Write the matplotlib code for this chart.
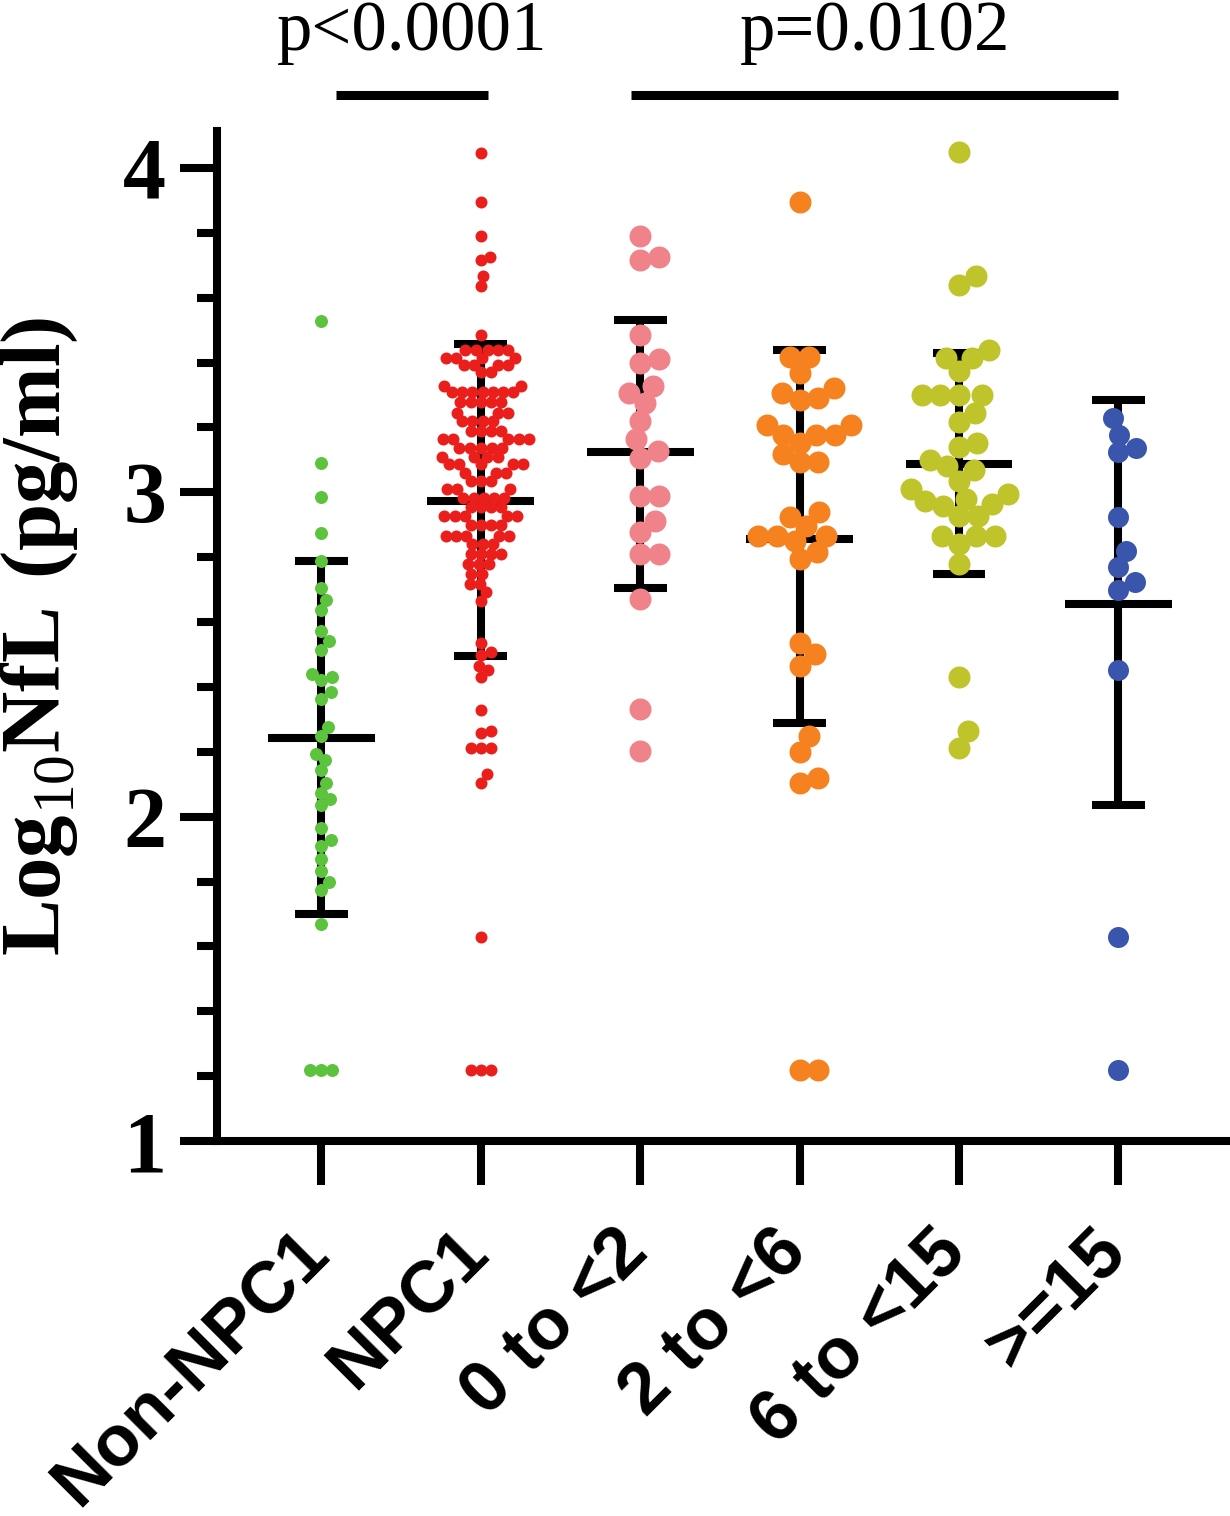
import numpy as np
import matplotlib
matplotlib.use("Agg")
import matplotlib.pyplot as plt
import matplotlib.transforms as mtransforms

# serif fonts for the mathtext y label (must be set before the axes exist)
plt.rcParams["mathtext.fontset"] = "custom"
plt.rcParams["mathtext.rm"] = "Liberation Serif"
plt.rcParams["mathtext.bf"] = "Liberation Serif:bold"

# groups and log10 NfL values
groups = ["Non-NPC1", "NPC1", "0 to <2", "2 to <6", "6 to <15", ">=15"]

non_npc1 = [3.527, 3.089, 2.987, 2.876, 2.788, 2.706, 2.668, 2.637, 2.573, 2.541,
            2.515, 2.44, 2.431, 2.42, 2.383, 2.364, 2.277, 2.25, 2.194, 2.175,
            2.143, 2.105, 2.074, 2.055, 2.035, 1.966, 1.927, 1.909, 1.87, 1.833,
            1.80, 1.775, 1.668, 1.22, 1.22, 1.22]

npc1 = [4.045, 3.896, 3.789, 3.717, 3.727, 3.666, 3.635, 3.486,
        3.44, 3.44, 3.44, 3.44, 3.44, 3.415, 3.415, 3.415, 3.415,
        3.394, 3.394, 3.394, 3.394, 3.37, 3.37, 3.327, 3.327,
        3.308, 3.308, 3.308, 3.308, 3.308, 3.308, 3.308,
        3.277, 3.277, 3.277, 3.277, 3.277, 3.246, 3.246, 3.246,
        3.219, 3.219, 3.219, 3.219, 3.188, 3.188, 3.188, 3.188,
        3.163, 3.163, 3.163, 3.163, 3.163, 3.138, 3.138, 3.138, 3.138, 3.138,
        3.11, 3.11, 3.11, 3.11, 3.086, 3.086, 3.086, 3.086, 3.086,
        3.061, 3.061, 3.061, 3.034, 3.034, 3.034, 3.009, 3.009, 3.009,
        2.984, 2.984, 2.984, 2.984, 2.984, 2.954, 2.954, 2.954, 2.954,
        2.926, 2.926, 2.926, 2.926, 2.926, 2.90, 2.90, 2.90, 2.90,
        2.865, 2.865, 2.865, 2.865, 2.865, 2.84, 2.84, 2.84,
        2.809, 2.809, 2.809, 2.809, 2.778, 2.778, 2.778, 2.748, 2.748,
        2.717, 2.717, 2.692, 2.665,
        2.535, 2.507, 2.498, 2.466, 2.453, 2.432, 2.33, 2.263, 2.257,
        2.212, 2.212, 2.212, 2.13, 2.105, 1.63, 1.22, 1.22, 1.22]

age_0_2 = [3.789, 3.717, 3.727, 3.486, 3.40, 3.41, 3.327, 3.307, 3.276, 3.22,
           3.163, 3.127, 3.107, 2.989, 2.989, 2.912, 2.877, 2.809, 2.809, 2.671,
           2.332, 2.203]

age_2_6 = [3.896, 3.418, 3.418, 3.368, 3.323, 3.307, 3.286, 3.292, 3.209, 3.209,
           3.178, 3.178, 3.178, 3.153, 3.117, 3.092, 3.092, 2.938, 2.923, 2.896,
           2.865, 2.865, 2.865, 2.85, 2.815, 2.794, 2.535, 2.50, 2.466, 2.25,
           2.20, 2.12, 2.105, 1.22, 1.22]

age_6_15 = [4.048, 3.666, 3.64, 3.44, 3.415, 3.415, 3.373, 3.30, 3.30, 3.30,
            3.30, 3.246, 3.218, 3.153, 3.14, 3.10, 3.08, 3.07, 3.035,
            3.009, 2.994, 2.98, 2.973, 2.963, 2.958, 2.927, 2.927,
            2.865, 2.865, 2.865, 2.84, 2.778, 2.431, 2.263, 2.212]

age_15 = [3.23, 3.178, 3.138, 3.123, 2.923, 2.82, 2.77, 2.723, 2.70, 2.453,
          1.63, 1.22]

means = [2.244, 2.973, 3.123, 2.856, 3.086, 2.655]
sd_hi = [2.788, 3.458, 3.532, 3.44, 3.43, 3.286]
sd_lo = [1.70, 2.494, 2.705, 2.29, 2.748, 2.035]

p_labels = ["p<0.0001", "p=0.0102"]

colors = ["#5cc43c", "#ea1f1c", "#f0838a", "#f5821f", "#bec42a", "#3a56ac"]
dot_px = [13, 12, 22, 22, 22, 21]

data = [non_npc1, npc1, age_0_2, age_2_6, age_6_15, age_15]


def swarm(ys, d):
    # simple beeswarm: offsets in pixels for values given in pixels
    offs = np.zeros(len(ys))
    placed = []
    for i in np.argsort(ys):
        y = ys[i]
        near = [(px, py) for px, py in placed if abs(py - y) < d]
        cands = [0.0]
        for px, py in near:
            dx = np.sqrt(d * d - (py - y) ** 2)
            cands += [px + dx, px - dx]
        cands.sort(key=lambda c: (abs(c), -c))
        for c in cands:
            if all((c - px) ** 2 + (y - py) ** 2 >= d * d - 1e-6 for px, py in near):
                break
        placed.append((c, y))
        offs[i] = c
    return offs


fig = plt.figure(figsize=(12.3, 15.16), dpi=100)
ax = fig.add_axes([217 / 1230, 375 / 1516, 1013 / 1230, 1010 / 1516])
ax.set_xlim(-0.655, 5.70)
ax.set_ylim(1, 4.114)

px_x = ax.bbox.width / (5.70 + 0.655)
px_y = ax.bbox.height / (4.114 - 1)

for i, vals in enumerate(data):
    vals = np.array(vals)
    offs = swarm(vals * px_y, dot_px[i] * 0.85)
    ax.scatter(i + offs / px_x, vals, s=(dot_px[i] * 0.72) ** 2, color=colors[i],
               linewidths=0, zorder=3, clip_on=False)
    # mean and SD
    ax.plot([i, i], [sd_lo[i], sd_hi[i]], color="black", lw=5.8, zorder=2, solid_capstyle="butt")
    for yv in (sd_lo[i], sd_hi[i]):
        ax.plot([i - 0.166, i + 0.166], [yv, yv], color="black", lw=5.8, zorder=2, solid_capstyle="butt")
    ax.plot([i - 0.335, i + 0.335], [means[i], means[i]], color="black", lw=5.8, zorder=2,
            solid_capstyle="butt")

# significance bars
ax.plot([0.094, 1.048], [4.225, 4.225], color="black", lw=6.5, clip_on=False, solid_capstyle="butt")
ax.plot([1.945, 5.0], [4.225, 4.225], color="black", lw=6.5, clip_on=False, solid_capstyle="butt")
ax.text(0.571, 4.364, p_labels[0], ha="center", va="baseline", fontsize=51,
        family="Liberation Serif", clip_on=False)
ax.text(3.476, 4.364, p_labels[1], ha="center", va="baseline", fontsize=51,
        family="Liberation Serif", clip_on=False)

ax.spines[["top", "right"]].set_visible(False)
ax.spines["left"].set_linewidth(5.8)
ax.spines["bottom"].set_linewidth(5.8)

ax.set_yticks([1, 2, 3, 4])
ax.set_yticklabels(["1", "2", "3", "4"], fontsize=62, fontfamily="Liberation Serif", fontweight="bold")
ax.set_yticks([1.2, 1.4, 1.6, 1.8, 2.2, 2.4, 2.6, 2.8, 3.2, 3.4, 3.6, 3.8], minor=True)
ax.tick_params(axis="y", which="major", length=26.6, width=5.8, pad=10)
ax.tick_params(axis="y", which="minor", length=14.4, width=5.8)

ax.set_xticks(range(len(groups)))
ax.set_xticklabels(groups, rotation=45, ha="right", va="center", rotation_mode="anchor",
                   fontsize=52, fontfamily="Liberation Sans", fontweight="bold")
ax.tick_params(axis="x", length=32, width=5.8, pad=40)
shift = mtransforms.ScaledTranslation(-4 / 100, 0, fig.dpi_scale_trans)
for lbl in ax.get_xticklabels():
    lbl.set_transform(lbl.get_transform() + shift)

ax.set_ylabel(r"$\mathbf{Log}_{\mathrm{10}}\mathbf{NfL\ (pg/ml)}$", fontsize=61)
ax.yaxis.set_label_coords(-0.135, 0.5)

plt.savefig("out.png", dpi=100)
